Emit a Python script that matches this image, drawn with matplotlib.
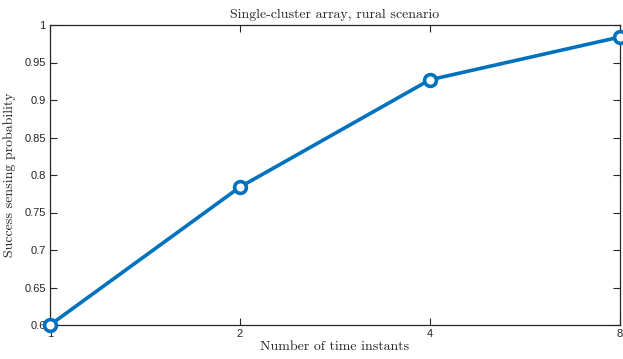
import matplotlib
matplotlib.use("Agg")
import matplotlib.pyplot as plt
from matplotlib.ticker import FixedLocator, FixedFormatter, NullLocator

time_instants = [1, 2, 4, 8]
success_prob = [0.600, 0.784, 0.927, 0.984]
x_ticks = [1, 2, 4, 8]
x_tick_labels = ["1", "2", "4", "8"]
y_ticks = [0.6, 0.65, 0.7, 0.75, 0.8, 0.85, 0.9, 0.95, 1.0]
y_tick_labels = ["0.6", "0.65", "0.7", "0.75", "0.8", "0.85", "0.9", "0.95", "1"]

serif = "cmr10"
fig = plt.figure(figsize=(6.23, 3.59), dpi=100)
ax = fig.add_axes([50/623, 1 - 325/359, 570/623, 300/359])
ax.plot(time_instants, success_prob, color="#0072BD", lw=2.6, marker="o",
        markersize=8.5, markerfacecolor="white", markeredgecolor="#0072BD",
        markeredgewidth=2.6, clip_on=False, zorder=3)
ax.set_xscale("log", base=2)
ax.set_xlim(1, 8)
ax.set_ylim(0.6, 1.0)
ax.xaxis.set_major_locator(FixedLocator(x_ticks))
ax.xaxis.set_major_formatter(FixedFormatter(x_tick_labels))
ax.xaxis.set_minor_locator(NullLocator())
ax.yaxis.set_major_locator(FixedLocator(y_ticks))
ax.yaxis.set_major_formatter(FixedFormatter(y_tick_labels))
ax.tick_params(direction="in", top=True, right=True, length=5, width=0.8,
               labelsize=8, colors="#262626", pad=3)
for lab in ax.get_xticklabels() + ax.get_yticklabels():
    lab.set_fontfamily("Liberation Sans")
for s in ax.spines.values():
    s.set_linewidth(0.9)
    s.set_color("#262626")
ax.set_title("Single-cluster array, rural scenario", fontfamily=serif,
             fontsize=10, pad=5, color="#262626")
ax.set_xlabel("Number of time instants", fontfamily=serif, fontsize=10,
              labelpad=1, color="#262626")
ax.set_ylabel("Success sensing probability", fontfamily=serif, fontsize=10,
              labelpad=6, color="#262626")
fig.savefig("out.png", dpi=100)
